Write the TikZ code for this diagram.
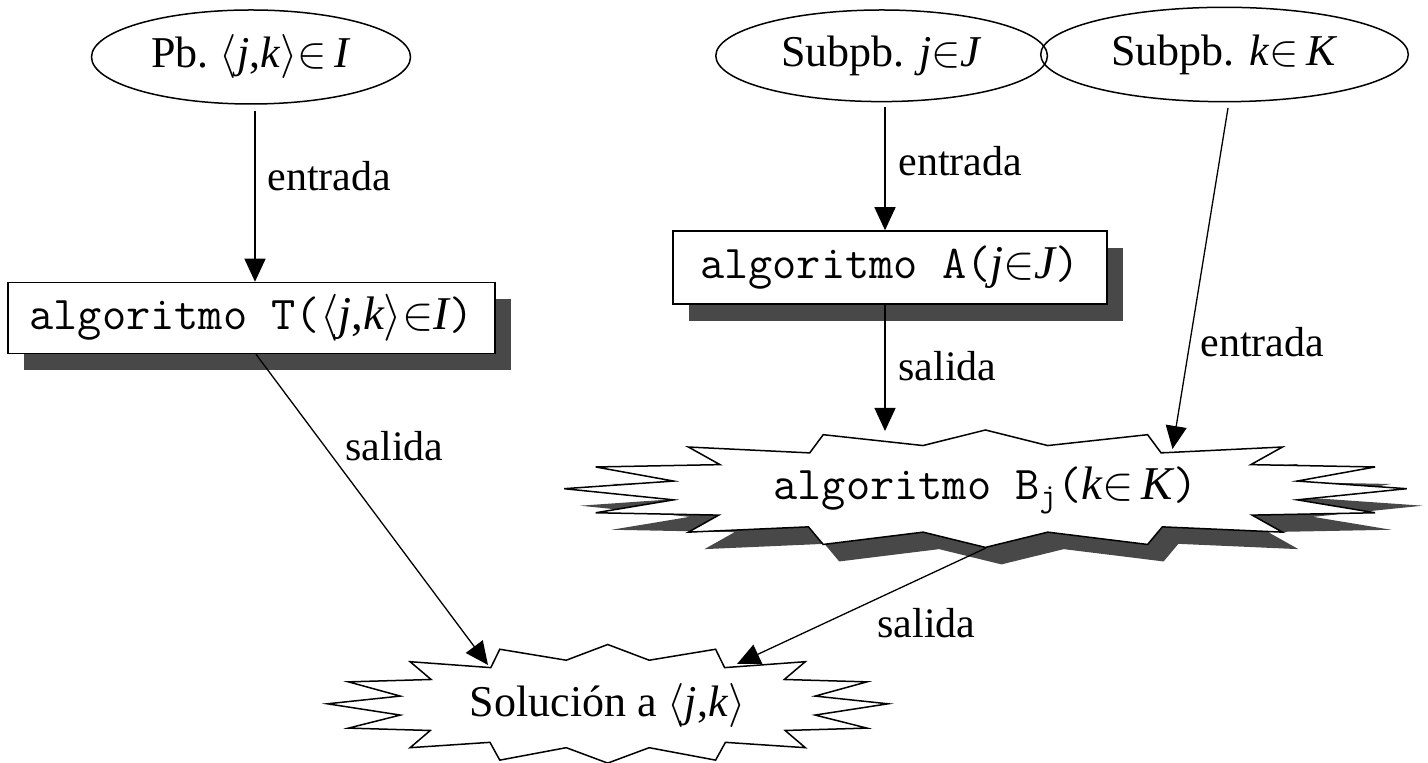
\RequirePackage{fix-cm}
\documentclass[tikz,border=0pt]{standalone}
\usepackage{fontspec}
\setmainfont{Liberation Serif}
\usetikzlibrary{shapes.geometric,arrows.meta,calc,shadows}
\definecolor{shadowc}{HTML}{484848}
\newcommand{\varit}[1]{{\rmfamily\itshape #1}}
\newcommand{\varrm}[1]{{\rmfamily #1}}

\tikzset{
  burst/.pic={\path[pic actions] (-1,0) -- (-0.74,0.13) -- (-0.925,0.37) -- (-0.63,0.41) -- (-0.705,0.71) -- (-0.417,0.61) -- (-0.385,0.92) -- (-0.148,0.735) -- (0,1) -- (0.148,0.735) -- (0.385,0.92) -- (0.417,0.61) -- (0.705,0.71) -- (0.63,0.41) -- (0.925,0.37) -- (0.74,0.13) -- (1,0) -- (0.74,-0.19) -- (0.925,-0.41) -- (0.633,-0.45) -- (0.705,-0.74) -- (0.42,-0.65) -- (0.385,-0.95) -- (0.148,-0.74) -- (0,-1) -- (-0.148,-0.74) -- (-0.385,-0.95) -- (-0.42,-0.65) -- (-0.705,-0.74) -- (-0.633,-0.45) -- (-0.925,-0.41) -- (-0.74,-0.19) -- cycle;},
  ell/.style={ellipse, draw, line width=0.75pt, inner sep=0pt, font=\fontsize{22}{26}\selectfont},
  algbox/.style={rectangle, draw, fill=white, line width=0.75pt, inner sep=0pt,
    font=\fontsize{23.5}{28}\selectfont\ttfamily,
    drop shadow={shadow xshift=8pt, shadow yshift=-8.5pt, fill=shadowc, opacity=1}},
  lbl/.style={anchor=base west, inner sep=0pt, font=\fontsize{21}{25}\selectfont},
  arr/.style={line width=0.65pt, -{Triangle[length=11.5pt,width=10.5pt]}},
  burstline/.style={draw, fill=white, line width=0.75pt},
  burstshadow/.style={fill=shadowc},
}

\begin{document}
\begin{tikzpicture}[x=0.5pt, y=-0.5pt]
\useasboundingbox (0,0) rectangle (1428,763);

% top ellipses
\node[ell, minimum width=159.5pt, minimum height=47pt] (pb) at (251,57)
  {Pb.~$\langle$\textit{j},\textit{k}$\rangle$$\in$\,\textit{I}};
\node[ell, minimum width=165.8pt, minimum height=45.8pt] (pj) at (881.6,55.8)
  {Subpb. \textit{j}$\in$\textit{J}};
\node[ell, minimum width=183.8pt, minimum height=47.2pt] (pk) at (1224.5,54.5)
  {Subpb. \textit{k}$\in$\,\textit{K}};

% algorithm boxes
\node[algbox, minimum width=243.5pt, minimum height=35.5pt] (tbox) at (251.5,318)
  {algoritmo T($\langle$\varit{j}\varrm{,}\varit{k}$\rangle$$\in$\varit{I})};
\node[algbox, minimum width=217pt, minimum height=36.5pt] (abox) at (890,267.5)
  {algoritmo A(\varit{j}$\in$\varit{J})};

% starbursts
\pic[burstshadow, xscale=421.3, yscale=-58.7] at (1001.4,505.7) {burst};
\pic[burstline, xscale=421.3, yscale=-58.7] at (985.4,488.7) {burst};
\node[font=\fontsize{23.5}{28}\selectfont\ttfamily, inner sep=0pt] (bj) at (985.4,490)
  {algoritmo B\textsubscript{j}(\varit{k}$\in$\,\varit{K})};

\pic[burstline, xscale=280.3, yscale=-59.3] at (607.7,703.8) {burst};
\node[font=\fontsize{22}{26}\selectfont, inner sep=0pt] (sol) at (607.7,705)
  {Solución a $\langle$\textit{j},\textit{k}$\rangle$};

% connector end points on the starbursts
\coordinate (bjinA) at (885,431);
\coordinate (bjinK) at (1172.5,449);
\coordinate (bjout) at (986,548);
\coordinate (solinT) at (488,665);
\coordinate (solinB) at (737,664);

% connectors
\draw[arr] ($(pb.south)+(4,6)$) -- ($(tbox.north)+(3.5,0)$);
\draw[arr] ($(pj.south)+(3.4,5)$) -- ($(abox.north)+(-5,0)$);
\draw[arr] ($(abox.south)+(-5,0)$) -- (bjinA);
\draw[arr] ($(pk.south)+(3.5,5.5)$) -- (bjinK);
\draw[arr] ($(tbox.south)+(4.5,0)$) -- (solinT);
\draw[arr] (bjout) -- (solinB);

% labels
\node[lbl] (l1) at (267,191) {entrada};
\node[lbl] (l2) at (898,176) {entrada};
\node[lbl] (l3) at (898,381) {salida};
\node[lbl] (l4) at (1200,357) {entrada};
\node[lbl] (l5) at (345,461) {salida};
\node[lbl] (l6) at (877,638) {salida};
\end{tikzpicture}
\end{document}
